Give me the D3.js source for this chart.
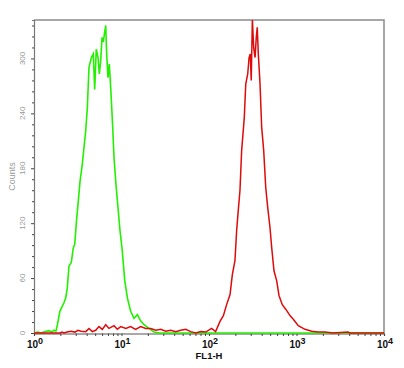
<!DOCTYPE html>
<html><head><meta charset="utf-8">
<script src="https://cdn.jsdelivr.net/npm/d3@7"></script>
<style>body{margin:0;background:#fff}svg{display:block}</style>
</head><body>
<script>
// Tick labels
const xTickExps = [0, 1, 2, 3, 4];
const yTickValues = [0, 60, 120, 180, 240, 300];
const xLabel = "FL1-H";
const yLabel = "Counts";

// Green histogram: FL1-H value, counts
const greenX = [1.00,1.10,1.20,1.30,1.48,1.60,1.69,1.78,1.85,1.98,2.20,2.30,2.40,2.51,2.67,2.81,2.92,3.08,3.18,3.36,3.56,3.73,3.90,4.07,4.25,4.52,4.76,4.94,5.15,5.39,5.58,5.78,5.99,6.19,6.43,6.60,6.77,7.01,7.25,7.53,7.93,8.21,8.65,9.12,9.61,10.2,10.9,11.7,12.7,13.9,15.2,16.6,18.1,20.6,23.5,27.5,32.3,100,1000,10000];
const greenY = [0,1,0,1,2.5,1,3,2,9,24,33,38,49,73,77,93,97,126,140,166,184,203,221,246,290,301,305,266,310,301,283,297,323,318,329,336,305,279,294,268,225,192,162,137,112,90,57,38,24,16,20,13,9,5,1,0,0,0,0,0];

// Red histogram: FL1-H value, counts
const redX = [1.00,1.50,2.00,2.09,2.20,2.38,2.65,2.94,3.18,3.44,3.90,4.25,4.64,5.07,5.53,6.03,6.60,7.20,8.21,8.95,9.79,11.2,12.7,14.5,16.6,18.9,21.6,24.6,28.1,32.0,36.5,41.6,47.5,54.2,61.8,70.5,80.4,91.7,107,119,134,146,159,174,185,198,207,216,226,236,253,263,277,287,296,304,313,324,336,347,356,366,383,400,422,445,469,498,521,553,594,631,688,753,843,919,1048,1251,1492,1775,2118,2613,3878,4100,10000];
const redY = [0,0,0,1,0,1,2,1,3,2,1.5,5,1.5,3,7,4,9,5,8,4,7,5,7,4,7,5,5,3,4,2,3,1.5,3,4,1.5,0,1.5,1,5,1.5,13,19,31,42,64,79,112,134,156,199,235,272,283,301,305,276,343,312,301,323,334,305,272,225,199,159,137,115,93,68,57,41,31,26,19,15,8,4,2,1,1,0,1,0,0];

const W = 404, H = 368;
const L = 34, R = 384, T = 20, B = 333;

const svg = d3.select("body").append("svg").attr("width", W).attr("height", H);

const x = d3.scaleLog().domain([1, 10000]).range([L, R]);
const y = d3.scaleLinear().domain([0, 342]).range([B, T]);

// Frame (top/right gray)
svg.append("path")
  .attr("d", `M${L},${T}H${R}V${B}`)
  .attr("fill", "none").attr("stroke", "#8a8a8a").attr("stroke-width", 1.5);

// Y axis
const yMinor = d3.range(0, 343, 12);
const yAxis = d3.axisLeft(y).tickValues(yMinor).tickSize(2).tickFormat(() => "");
const gy = svg.append("g").attr("transform", `translate(${L},0)`).call(yAxis);
gy.select(".domain").attr("stroke", "#777").attr("stroke-width", 1.2);
gy.selectAll(".tick line").attr("stroke", "#444");
gy.selectAll(".tick").filter(d => yTickValues.includes(d)).select("line").attr("x2", -3);

yTickValues.forEach(v => {
  svg.append("text")
    .attr("transform", `translate(25,${y(v)}) rotate(-90)`)
    .attr("text-anchor", "middle")
    .attr("font-family", "Arial, 'Liberation Sans', sans-serif")
    .attr("font-size", 8).attr("fill", "#9a9a9a")
    .text(v);
});
svg.append("text")
  .attr("transform", `translate(15,${(T + B) / 2}) rotate(-90)`)
  .attr("text-anchor", "middle")
  .attr("font-family", "Arial, 'Liberation Sans', sans-serif")
  .attr("font-size", 9).attr("fill", "#9a9a9a")
  .text(yLabel);

// X axis
const xTicks = [];
for (let e = 0; e < 4; e++) for (let m = 1; m <= 9; m++) xTicks.push(m * Math.pow(10, e));
xTicks.push(10000);
const xAxis = d3.axisBottom(x).tickValues(xTicks).tickSize(2.5).tickFormat(() => "");
const gx = svg.append("g").attr("transform", `translate(0,${B + 0.5})`).call(xAxis);
gx.select(".domain").attr("stroke", "#555").attr("stroke-width", 1.2);
gx.selectAll(".tick line").attr("stroke", "#444");

xTickExps.forEach(e => {
  const t = svg.append("text")
    .attr("x", x(Math.pow(10, e)) + 1).attr("y", 348)
    .attr("text-anchor", "middle")
    .attr("font-family", "Arial, 'Liberation Sans', sans-serif")
    .attr("font-weight", "bold").attr("font-size", 10).attr("fill", "#111");
  t.append("tspan").text("10");
  t.append("tspan").attr("dy", -4).attr("font-size", 9).text(e);
});
svg.append("text")
  .attr("x", (L + R) / 2).attr("y", 358.5)
  .attr("text-anchor", "middle")
  .attr("font-family", "Arial, 'Liberation Sans', sans-serif")
  .attr("font-weight", "bold").attr("font-size", 9.5).attr("fill", "#111")
  .text(xLabel);

// Clip
svg.append("clipPath").attr("id", "clip")
  .append("rect").attr("x", L).attr("y", T).attr("width", R - L).attr("height", B - T + 2);

const line = d3.line().x(d => x(d[0])).y(d => y(d[1]));

svg.append("path")
  .datum(greenX.map((v, i) => [v, greenY[i]]))
  .attr("clip-path", "url(#clip)")
  .attr("d", line).attr("fill", "none")
  .attr("stroke", "#22f000").attr("stroke-width", 1.6);

svg.append("path")
  .datum(redX.map((v, i) => [v, redY[i]]))
  .attr("clip-path", "url(#clip)")
  .attr("d", line).attr("fill", "none")
  .attr("stroke", "#dd0b0b").attr("stroke-width", 1.5);
</script>
</body></html>
